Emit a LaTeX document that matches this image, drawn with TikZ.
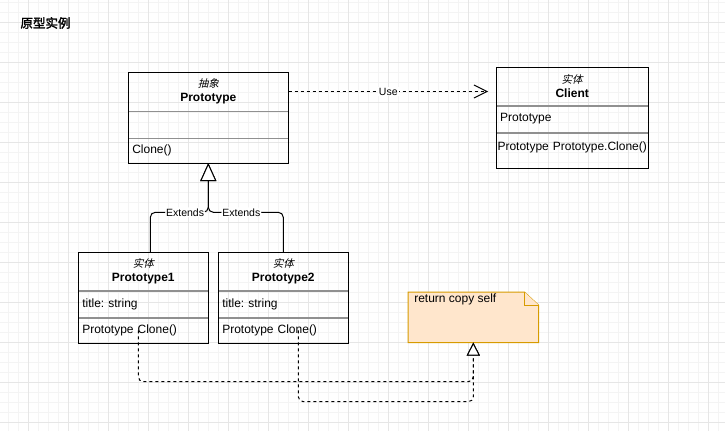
\documentclass[tikz,border=0pt]{standalone}
\usepackage{fontspec}
\setmainfont{Liberation Sans}
\newfontfamily\cjkit{Noto Sans CJK SC}[FakeSlant=0.25]
\newfontfamily\cjkbf{Noto Sans CJK SC}[FakeBold=2]
\usetikzlibrary{arrows.meta, positioning}
\definecolor{sepgray}{HTML}{909090}
\definecolor{gridmaj}{HTML}{E6E6E6}
\definecolor{gridmin}{HTML}{F4F4F4}
\definecolor{notefill}{HTML}{FFE6CC}
\definecolor{notedraw}{HTML}{D79B00}
\newcommand{\umlstereo}[1]{{\fontsize{10.5}{12}\selectfont\cjkit #1}}
\frenchspacing

\begin{document}
\begin{tikzpicture}[
                    x=1pt, y=-1pt,
                    every node/.style={font=\fontsize{12}{14}\selectfont, align=center},
                    gridminor/.style={draw=gridmin, line width=0.8pt},
                    gridmajor/.style={draw=gridmaj, line width=0.8pt},
                    classhead/.style={draw=sepgray, inner sep=0pt, minimum width=#1},
                    classrow/.style={draw=sepgray, inner xsep=4pt, inner ysep=0pt, text width=#1, align=left},
                    classframe/.style={draw=black, line width=1pt},
                    edgelabel/.style={fill=white, inner sep=1pt, font=\fontsize{10.5}{12}\selectfont},
                    use/.style={draw, line width=1pt, dash pattern=on 3pt off 3pt, -{Straight Barb[length=13pt, width=13pt, line width=1pt]}},
                    inherit/.style={draw, line width=1pt, rounded corners=5pt, -{Triangle[open, length=18pt, width=16pt, fill=white, line width=1pt]}},
                    realize/.style={draw, line width=1pt, rounded corners=5pt, dash pattern=on 3pt off 3pt, -{Triangle[open, length=13pt, width=13pt, fill=white, line width=1pt]}},
                    notebox/.style={fill=notefill, draw=notedraw, line width=1pt}
                    ]

  \useasboundingbox (0,0) rectangle (725,431);
  \fill[white] (0,0) rectangle (725,431);
  \foreach \gx in {8,18,...,718} \draw[gridminor] (\gx,0) -- (\gx,431);
  \foreach \gy in {2,12,...,422} \draw[gridminor] (0,\gy) -- (725,\gy);
  \foreach \gx in {28,68,...,708} \draw[gridmajor] (\gx,0) -- (\gx,431);
  \foreach \gy in {22,62,...,422} \draw[gridmajor] (0,\gy) -- (725,\gy);

  \node (title) at (45.5,23) {\fontsize{12.5}{14}\selectfont\cjkbf 原型实例};

  % abstract class
  \node[classhead=160pt, minimum height=38.4pt] (proto) at (208.3,91.5) {\umlstereo{抽象}\\\textbf{Prototype}};
  \node[classrow=152pt, minimum height=26.6pt, below=0pt of proto] (protoa) {};
  \node[classrow=152pt, minimum height=24.7pt, below=0pt of protoa] (protom) {Clone()};
  \draw[classframe] (proto.north west) rectangle (protom.south east);

  % client
  \node[classhead=152pt, minimum height=38pt] (client) at (572.2,86.3) {\umlstereo{实体}\\\textbf{Client}};
  \node[classrow=144pt, minimum height=26.7pt, below=0pt of client] (clienta) {Prototype};
  \node[classrow=152pt, inner xsep=0pt, align=center, text depth=9pt, minimum height=35.3pt, below=0pt of clienta] (clientm) {Prototype Prototype.Clone()};
  \draw[classframe] (client.north west) rectangle (clientm.south east);

  % concrete classes
  \node[classhead=130pt, minimum height=38pt] (p1) at (143.3,271.3) {\umlstereo{实体}\\\textbf{Prototype1}};
  \node[classrow=122pt, minimum height=26.7pt, below=0pt of p1] (p1a) {title: string};
  \node[classrow=122pt, minimum height=25.3pt, below=0pt of p1a] (p1m) {Prototype Clone()};
  \draw[classframe] (p1.north west) rectangle (p1m.south east);

  \node[classhead=130pt, minimum height=38pt] (p2) at (283.3,271.3) {\umlstereo{实体}\\\textbf{Prototype2}};
  \node[classrow=122pt, minimum height=26.7pt, below=0pt of p2] (p2a) {title: string};
  \node[classrow=122pt, minimum height=25.3pt, below=0pt of p2a] (p2m) {Prototype Clone()};
  \draw[classframe] (p2.north west) rectangle (p2m.south east);

  % note
  \node[minimum width=130pt, minimum height=50pt, inner sep=0pt] (note) at (473.3,317.3) {};
  \draw[notebox] (note.north west) -- ([xshift=-14pt]note.north east) -- ([yshift=-13pt]note.north east)
    -- (note.south east) -- (note.south west) -- cycle;
  \draw[notebox] ([xshift=-14pt]note.north east) |- ([yshift=-13pt]note.north east);
  \node[anchor=west, inner sep=0pt] (notetext) at ([xshift=6pt, yshift=-7.7pt]note.north west) {return copy self};

  % connectors
  \draw[use] (proto.east) -- ([xshift=-8pt]proto.east -| client.west) node[edgelabel, midway] {Use};

  \coordinate (extj) at (208.3,212.3);
  \draw[inherit] ([xshift=7pt]p1.north) |- node[edgelabel, pos=0.8] {Extends} (extj) -- (protom.south);
  \draw[inherit] (p2.north) |- node[edgelabel, pos=0.78] {Extends} (extj) -- (protom.south);

  \coordinate (realj1) at (473.3,381.7);
  \coordinate (realj2) at (473.3,401.7);
  \draw[realize] ([xshift=-5pt]p1m.center) |- (realj1) -- (note.south);
  \draw[realize] ([xshift=15pt]p2m.center) |- (realj2) -- (note.south);

\end{tikzpicture}
\end{document}
